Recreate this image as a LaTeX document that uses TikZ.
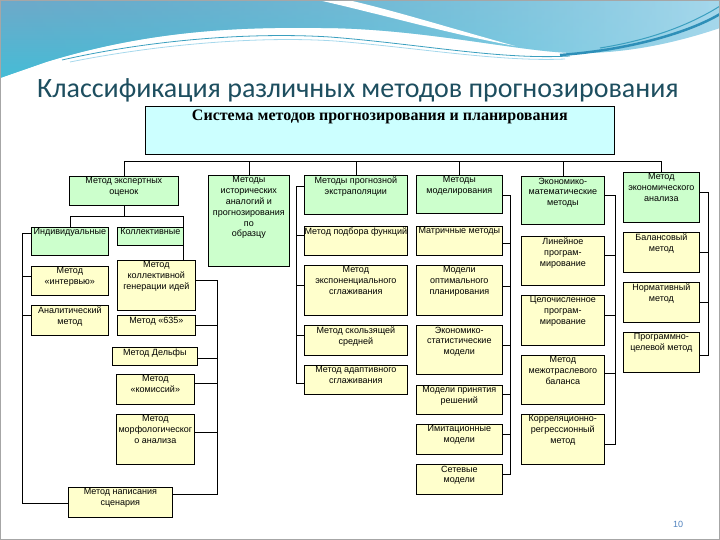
\documentclass[tikz,border=0pt]{standalone}
\usepackage{fontspec}
\setmainfont{Liberation Sans}
\newfontfamily\ttlfont{Carlito}
\newfontfamily\serfont{Liberation Serif}
\usetikzlibrary{positioning,calc,fadings}
\definecolor{ttlteal}{HTML}{1D4E5F}
\definecolor{boxgreen}{HTML}{CCFFCC}
\definecolor{boxyellow}{HTML}{FFFFCC}
\definecolor{boxcyan}{HTML}{CCFFFF}
\definecolor{banA}{HTML}{46BCD6}
\definecolor{banB}{HTML}{A6D8EC}
\definecolor{banC}{HTML}{3A9FBF}
\definecolor{banD}{HTML}{2E8FB8}
\definecolor{banE}{HTML}{6FA9C9}
\definecolor{pnum}{HTML}{4F81BD}
\tikzset{
  bx/.style={draw=black, line width=0.7pt, inner sep=0pt, anchor=north west},
  grn/.style={bx, fill=boxgreen},
  ylw/.style={bx, fill=boxyellow},
  sysbox/.style={bx, fill=boxcyan},
  sz/.style 2 args={minimum width=#1pt, minimum height=#2pt},
  bt/.style={font=\fontsize{9}{10.8}\selectfont, align=center, anchor=north, inner sep=1.6pt},
  ln/.style={line width=0.7pt, color=black},
}
\begin{document}
\begin{tikzpicture}[x=1pt, y=-1pt]
  \useasboundingbox (0,0) rectangle (720,540);
  % banner
  \shade[left color=banA, right color=banB] (0,78) -- (0,0) -- (720,0) -- (720,28)
    .. controls (670,45) and (620,54) .. (573,53)
    .. controls (520,52) and (420,28) .. (320,28)
    .. controls (240,27) and (150,30) .. (46,62) -- cycle;
  \shade[top color=banE, bottom color=banA, path fading=east] (0,78) -- (0,0) -- (720,0) -- (720,28)
    .. controls (670,45) and (620,54) .. (573,53)
    .. controls (520,52) and (420,28) .. (320,28)
    .. controls (240,27) and (150,30) .. (46,62) -- cycle;
  \fill[white] (318,0) .. controls (380,14) and (450,34) .. (515,46)
    .. controls (450,28) and (392,10) .. (348,0) -- cycle;
  \draw[banC, line width=0.8pt] (62,60) .. controls (150,40) and (250,32) .. (330,37)
    .. controls (420,44) and (500,60) .. (570,56);
  \draw[banB, line width=0.8pt] (70,62) .. controls (160,44) and (260,36) .. (335,41)
    .. controls (420,48) and (500,62) .. (565,59);
  \draw[banD, line width=2.5pt] (560,55) .. controls (630,50) and (690,32) .. (720,14);
  \draw[banC, line width=1pt] (600,48) .. controls (650,40) and (690,25) .. (720,6);
  \draw[gray!70, line width=1pt] (0.5,0.5) rectangle (719.5,539.5);

  % title
  \node[anchor=base west, font=\ttlfont\fontsize{28}{30}\selectfont, text=ttlteal, inner sep=0pt] (ttl) at (37,98) {Классификация различных методов прогнозирования};

  \node[sysbox, sz={469}{48}, label={[bt, font=\serfont\bfseries\fontsize{16}{18}\selectfont, inner sep=3.5pt]north:Система методов прогнозирования и планирования}] (sys) at (145,106) {};

  % first level
  \node[grn, sz={109}{29}, label={[bt]north:Метод экспертных\\оценок}] (exp) at (69,176) {};
  \node[grn, sz={81}{91}, label={[bt]north:Методы\\исторических\\аналогий и\\прогнозирования\\по\\образцу}] (hist) at (208,175) {};
  \node[grn, sz={103}{39}, label={[bt]north:Методы прогнозной\\экстраполяции}] (ext) at (304,175) {};
  \node[grn, sz={86}{38}, label={[bt]north:Методы\\моделирования}] (mod) at (416,175) {};
  \node[grn, sz={83}{48}, label={[bt]north:Экономико-\\математические\\методы}] (emm) at (521,176) {};
  \node[grn, sz={76}{50}, label={[bt]north:Метод\\экономического\\анализа}] (ecn) at (623,172) {};

  % expert methods
  \node[grn, sz={77}{28}, label={[bt]north:Индивидуальные}] (ind) at (31,227) {};
  \node[grn, sz={66}{18}, label={[bt]north:Коллективные}] (kol) at (117,227) {};
  \node[ylw, sz={77}{29}, label={[bt]north:Метод\\«интервью»}] (intv) at (31,266) {};
  \node[ylw, sz={77}{30}, label={[bt]north:Аналитический\\метод}] (anal) at (31,305) {};
  \node[ylw, sz={78}{50}, label={[bt]north:Метод\\коллективной\\генерации идей}] (gen) at (117,260) {};
  \node[ylw, sz={78}{20}, label={[bt]north:Метод «635»}] (s635) at (117,315) {};
  \node[ylw, sz={85}{18}, label={[bt]north:Метод Дельфы}] (del) at (112,347) {};
  \node[ylw, sz={78}{30}, label={[bt]north:Метод\\«комиссий»}] (kom) at (116,374) {};
  \node[ylw, sz={78}{50}, label={[bt]north:Метод\\морфологическог\\о анализа}] (mor) at (116,414) {};
  \node[ylw, sz={104}{30}, label={[bt]north:Метод написания\\сценария}] (scen) at (68,487) {};

  % extrapolation
  \node[ylw, sz={103}{29}, label={[bt]north:Метод подбора функций}] (fun) at (304,226) {};
  \node[ylw, sz={103}{50}, label={[bt]north:Метод\\экспоненциального\\сглаживания}] (exs) at (304,265) {};
  \node[ylw, sz={103}{30}, label={[bt]north:Метод скользящей\\средней}] (sko) at (304,325) {};
  \node[ylw, sz={103}{29}, label={[bt]north:Метод адаптивного\\сглаживания}] (ada) at (304,365) {};

  % modelling
  \node[ylw, sz={86}{29}, label={[bt]north:Матричные методы}] (mat) at (416,226) {};
  \node[ylw, sz={86}{50}, label={[bt]north:Модели\\оптимального\\планирования}] (opt) at (416,265) {};
  \node[ylw, sz={86}{49}, label={[bt]north:Экономико-\\статистические\\модели}] (est) at (416,325) {};
  \node[ylw, sz={86}{29}, label={[bt]north:Модели принятия\\решений}] (pr) at (416,385) {};
  \node[ylw, sz={86}{30}, label={[bt]north:Имитационные\\модели}] (imi) at (416,424) {};
  \node[ylw, sz={86}{30}, label={[bt]north:Сетевые\\модели}] (set) at (416,464) {};

  % economic-mathematical
  \node[ylw, sz={83}{49}, label={[bt]north:Линейное\\програм-\\мирование}] (lin) at (521,236) {};
  \node[ylw, sz={83}{50}, label={[bt]north:Целочисленное\\програм-\\мирование}] (cel) at (521,295) {};
  \node[ylw, sz={83}{49}, label={[bt]north:Метод\\межотраслевого\\баланса}] (mob) at (521,355) {};
  \node[ylw, sz={83}{50}, label={[bt]north:Корреляционно-\\регрессионный\\метод}] (kor) at (521,414) {};

  % economic analysis
  \node[ylw, sz={76}{40}, label={[bt]north:Балансовый\\метод}] (bal) at (623,232) {};
  \node[ylw, sz={76}{40}, label={[bt]north:Нормативный\\метод}] (nor) at (623,282) {};
  \node[ylw, sz={76}{40}, label={[bt]north:Программно-\\целевой метод}] (prc) at (623,332) {};

  % top bus
  \coordinate (bus) at (0,161);
  \draw[ln] (exp.north |- bus) -- (ecn.north |- bus);
  \foreach \n in {exp,hist,ext,mod,emm,ecn}
    \draw[ln] (\n.north) -- (\n.north |- bus);

  % expert fork
  \coordinate (eb) at (0,216);
  \draw[ln] (exp.south) -- (exp.south |- eb);
  \draw[ln] (ind.north) |- (kol.north east |- eb) -- (kol.north east);
  \draw[ln] (kol.south east) -- (kol.south east |- gen.north);

  % brackets
  \coordinate (lbA) at (22,233);
  \foreach \n/\o in {ind/6,intv/10,anal/10,scen/16}
    \draw[ln] ([yshift=-\o pt]\n.north west) -| (lbA);
  \coordinate (rbA) at (217,280);
  \foreach \n/\o in {gen/20,s635/10,del/11,kom/9,mor/18,scen/7}
    \draw[ln] ([yshift=-\o pt]\n.north east) -| (rbA);
  \coordinate (bC) at (296,186);
  \foreach \n/\o in {ext/11,fun/9,exs/20,sko/10,ada/18}
    \draw[ln] ([yshift=-\o pt]\n.north west) -| (bC);
  \coordinate (bD) at (510,195);
  \foreach \n/\o in {mod/20,mat/17,opt/21,est/20,pr/9,imi/10,set/10}
    \draw[ln] ([yshift=-\o pt]\n.north east) -| (bD);
  \coordinate (bE) at (615,195);
  \foreach \n/\o in {emm/19,lin/19,cel/20,mob/18,kor/30}
    \draw[ln] ([yshift=-\o pt]\n.north east) -| (bE);
  \coordinate (bF) at (708,192);
  \foreach \n/\o in {ecn/20,bal/20,nor/20,prc/23}
    \draw[ln] ([yshift=-\o pt]\n.north east) -| (bF);

  \node[anchor=base, font=\fontsize{9}{10}\selectfont, text=pnum, inner sep=0pt] (pg) at (678,527) {10};
\end{tikzpicture}
\end{document}
